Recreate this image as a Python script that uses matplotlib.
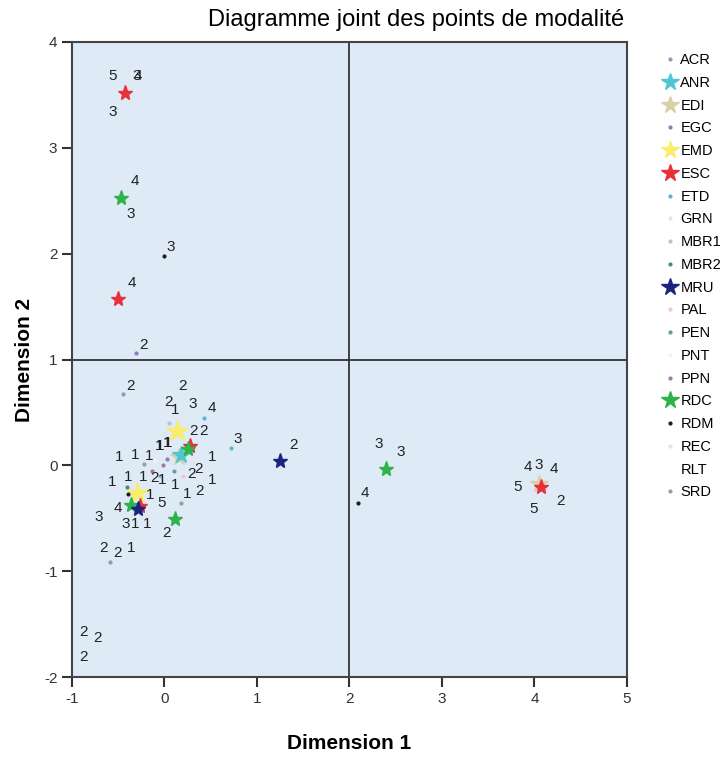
import matplotlib
matplotlib.use('Agg')
import matplotlib.pyplot as plt
from matplotlib.lines import Line2D

plt.rcParams['font.family'] = ['Liberation Sans', 'DejaVu Sans']
plt.rcParams['axes.unicode_minus'] = False

# variables (legend order), colours and markers
variables = ['ACR', 'ANR', 'EDI', 'EGC', 'EMD', 'ESC', 'ETD', 'GRN', 'MBR1', 'MBR2',
             'MRU', 'PAL', 'PEN', 'PNT', 'PPN', 'RDC', 'RDM', 'REC', 'RLT', 'SRD']
var_colors = ['#8a9bb5', '#4cc8d2', '#d9d0a8', '#8a7fb8', '#f8ee6a', '#e8303a', '#5ab8cc',
              '#e2e2ea', '#b4c4d4', '#4a8a8a', '#1c237e', '#f2c6d0', '#6a9aa2', '#f2f2f2',
              '#a07aa2', '#2db34a', '#1e1e1e', '#e8e0ea', '#ffffff', '#939dab']
var_markers = ['.', '*', '*', '.', '*', '*', '.', '.', '.', '.',
               '*', '.', '.', '.', '.', '*', '.', '.', 'none', '.']

# category points (variable, dim1, dim2)
pt_var = ['EDI', 'EDI', 'ANR',
          'EMD', 'EMD',
          'ESC', 'ESC', 'ESC', 'ESC', 'ESC',
          'RDC', 'RDC', 'RDC', 'RDC', 'RDC',
          'RDM', 'RDM', 'RDM',
          'EGC', 'EGC',
          'MRU', 'MRU',
          'ACR', 'ACR', 'ETD', 'ETD', 'SRD', 'SRD', 'PPN', 'PPN',
          'MBR2', 'PEN', 'MBR1', 'MBR1', 'GRN', 'PAL', 'PNT', 'REC']
pt_x = [4.05, 0.16, 0.18,
        0.14, -0.30,
        -0.43, -0.50, 4.07, 0.28, -0.26,
        -0.47, 2.39, 0.25, -0.36, 0.11,
        0.00, 2.09, -0.39,
        -0.31, 0.03,
        1.25, -0.29,
        -0.45, -0.59, 0.43, 0.72, 0.18, -0.22, -0.02, -0.13,
        -0.40, 0.10, 0.05, -0.05, 0.00, 0.20, -0.10, 0.30]
pt_y = [-0.18, 0.08, 0.10,
        0.32, -0.26,
        3.52, 1.57, -0.20, 0.18, -0.38,
        2.53, -0.03, 0.15, -0.37, -0.51,
        1.98, -0.36, -0.27,
        1.06, 0.06,
        0.04, -0.41,
        0.67, -0.91, 0.45, 0.16, -0.36, 0.01, 0.00, -0.05,
        -0.20, -0.05, 0.40, -0.10, 0.30, -0.10, 0.05, 0.02]

# category codes written next to the points
lab_text = ['5', '3', '4', '3', '4', '3', '3', '4', '2',
            '2', '3', '3', '4', '4', '3', '4', '5', '5', '2',
            '2', '2', '1', '2', '2', '2',
            '2', '2', '2', '1', '3', '4', '2', '2', '3', '1', '1', '1', '1',
            '1', '1', '1', '1', '2', '2', '1', '1', '1', '2', '1', '1', '1',
            '1', '2', '1', '4', '5', '3', '3', '1', '1', '2']
lab_x = [-0.56, -0.30, -0.29, -0.56, -0.32, -0.37, 0.07, -0.35, -0.23,
         1.39, 2.32, 2.55, 2.17, 3.93, 4.05, 4.21, 3.82, 3.99, 4.28,
         -0.66, -0.51, -0.36, -0.88, -0.72, -0.88,
         -0.37, 0.19, 0.04, 0.12, 0.30, 0.51, 0.31, 0.42, 0.79, -0.06, -0.05, 0.03, 0.035,
         -0.49, -0.32, -0.17, 0.52, 0.29, 0.37, -0.57, -0.39, -0.23, -0.11, -0.02, 0.12, 0.52,
         0.25, 0.38, -0.16, -0.50, -0.03, -0.71, -0.42, -0.32, -0.19, 0.02]
lab_y = [3.68, 3.68, 3.68, 3.34, 2.69, 2.37, 2.06, 1.72, 1.14,
         0.19, 0.20, 0.13, -0.26, -0.02, 0.00, -0.03, -0.20, -0.41, -0.34,
         -0.78, -0.83, -0.78, -1.57, -1.63, -1.81,
         0.75, 0.75, 0.60, 0.52, 0.58, 0.54, 0.32, 0.32, 0.25, 0.18, 0.18, 0.21, 0.21,
         0.08, 0.10, 0.09, 0.08, -0.08, -0.03, -0.16, -0.11, -0.11, -0.12, -0.14, -0.19, -0.14,
         -0.27, -0.24, -0.28, -0.40, -0.36, -0.49, -0.55, -0.55, -0.55, -0.64]

fig = plt.figure(figsize=(7.24, 7.59), dpi=100)
ax = fig.add_axes([0.0994, 0.108, 0.7666, 0.8367])
ax.set_facecolor('#dfeaf7')

ax.axvline(2, color='#333333', lw=1.3, zorder=1)
ax.axhline(1, color='#333333', lw=1.3, zorder=1)

big = {'ANR': 13, 'EDI': 13, 'EMD': 16}
for v, x, y in zip(pt_var, pt_x, pt_y):
    i = variables.index(v)
    m = var_markers[i]
    ms = big.get(v, 11) if m == '*' else 4
    ax.plot(x, y, marker=m, color=var_colors[i], markersize=ms, linestyle='none', zorder=3)

for t, x, y in zip(lab_text, lab_x, lab_y):
    ax.text(x, y, t, fontsize=11, color='#222222', ha='center', va='center', zorder=4)

ax.set_xlim(-1, 5)
ax.set_ylim(-2, 4)
ax.set_xticks([-1, 0, 1, 2, 3, 4, 5])
ax.set_yticks([-2, -1, 0, 1, 2, 3, 4])
ax.tick_params(direction='out', length=7, width=1.5, labelsize=11, colors='#333333')
for s in ax.spines.values():
    s.set_color('#444444')
    s.set_linewidth(1.5)

fig.text(0.482, 0.021, 'Dimension 1', fontsize=15, fontweight='bold', ha='center', va='center')
fig.text(0.0345, 0.526, 'Dimension 2', fontsize=15, fontweight='bold', ha='center', va='center',
         rotation=90)
fig.text(0.575, 0.974, 'Diagramme joint des points de modalité', fontsize=17,
         ha='center', va='center')

handles = []
for v, c, m in zip(variables, var_colors, var_markers):
    ms = 13 if m == '*' else 4
    handles.append(Line2D([], [], marker=m, color=c, linestyle='none', markersize=ms))
fig.legend(handles, variables, loc='upper left', bbox_to_anchor=(0.9155, 0.930),
           frameon=False, fontsize=10.5, handlelength=1.0, handletextpad=0.2,
           labelspacing=0.6, borderpad=0, borderaxespad=0)

fig.savefig('out.png', dpi=100)
